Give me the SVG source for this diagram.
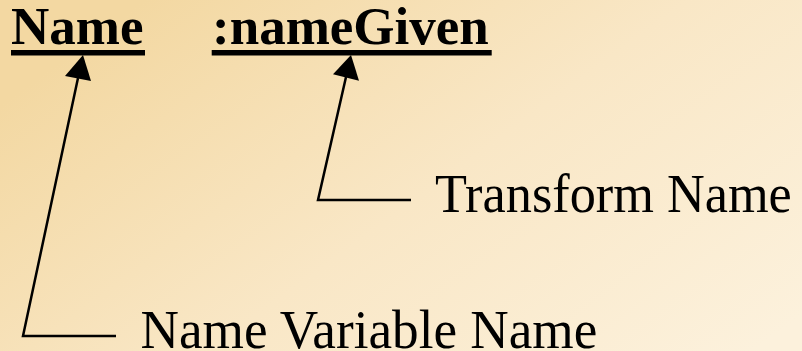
<svg xmlns="http://www.w3.org/2000/svg" width="802" height="351" viewBox="0 0 802 351">
  <defs>
    <linearGradient id="bg" x1="0" y1="0.3" x2="1" y2="0.9">
      <stop offset="0" stop-color="#F3D8A2"/>
      <stop offset="0.5" stop-color="#F9E7C6"/>
      <stop offset="1" stop-color="#FCF1DC"/>
    </linearGradient>
    <style>
      .bold { font-family: "Liberation Serif", "Times New Roman", serif; font-weight: bold; font-size: 53px; fill: #000; }
      .reg { font-family: "Liberation Serif", "Times New Roman", serif; font-size: 52.3px; fill: #000; }
      .conn { fill: none; stroke: #000; stroke-width: 2.5; stroke-linejoin: miter; }
      .head { fill: #000; stroke: none; }
      .ul { fill: #000; }
    </style>
  </defs>
  <rect x="0" y="0" width="802" height="351" fill="url(#bg)"/>

  <g id="node-name">
    <text class="bold" x="11" y="44">Name</text>
    <rect class="ul" x="11" y="50" width="134" height="5.5"/>
  </g>

  <g id="node-namegiven">
    <text class="bold" x="212" y="44">:nameGiven</text>
    <rect class="ul" x="211.7" y="50" width="280" height="5.5"/>
  </g>

  <g id="node-transform">
    <text class="reg" transform="translate(435,211.7) scale(1,1.07)" x="0" y="0">Transform Name</text>
  </g>

  <g id="node-variable">
    <text class="reg" style="font-size:53.2px" transform="translate(140.5,348.3) scale(1,1.05)" x="0" y="0">Name Variable Name</text>
  </g>

  <g id="connectors">
    <polyline class="conn" points="78,78 23,336 116,336"/>
    <polygon class="head" points="83,55 65,76 91,81"/>
    <polyline class="conn" points="346,77 318,200 411,200"/>
    <polygon class="head" points="351,55 333,74.3 359,80.7"/>
  </g>
</svg>
